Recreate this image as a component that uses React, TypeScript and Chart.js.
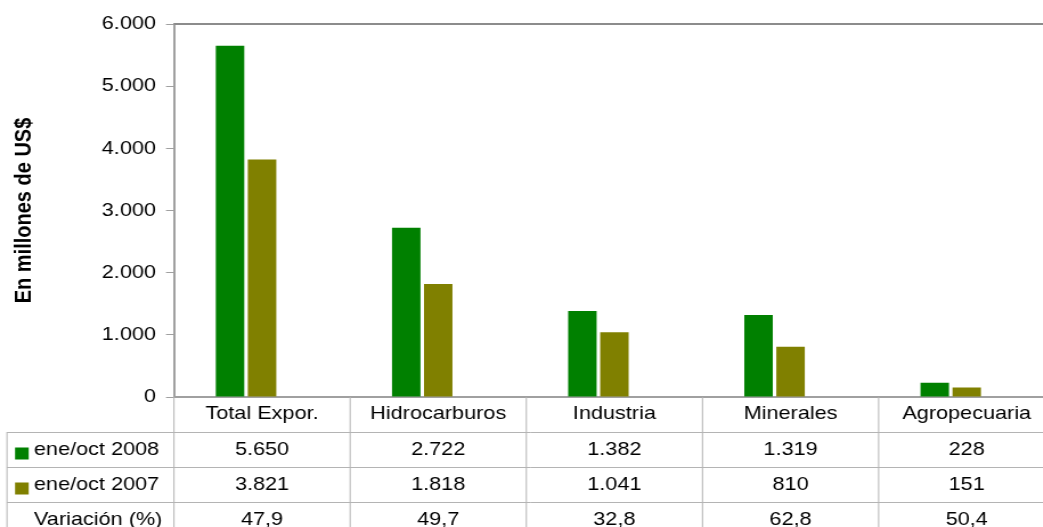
import React, { useEffect, useRef } from "react";
import { Chart, registerables } from "chart.js";

Chart.register(...registerables);

// ---- data ----
const categories = ["Total Expor.", "Hidrocarburos", "Industria", "Minerales", "Agropecuaria"];
const exports2008 = [5650, 2722, 1382, 1319, 228];
const exports2007 = [3821, 1818, 1041, 810, 151];
const variation = [47.9, 49.7, 32.8, 62.8, 50.4];
const seriesLabels = ["ene/oct 2008", "ene/oct 2007", "Variación (%)"];
const seriesColors = ["#008000", "#808000", "rgba(0,0,0,0)"];
const yAxisTitle = "En millones de US$";
const yMin = 0;
const yMax = 6000;
const yStep = 1000;

// ---- layout / style ----
const SX = 1.14; // horizontal stretch of the reference rendering
const W = 930;
const H = 527;
const FONT = "'Liberation Sans', Arial, Helvetica, sans-serif";
const FS = 19;
const ROW_H = 35;

function fmtInt(v: number): string {
  return Math.round(v).toString().replace(/\B(?=(\d{3})+(?!\d))/g, ".");
}
function fmtDec(v: number): string {
  return v.toFixed(1).replace(".", ",");
}

const tablePlugin = {
  id: "dataTable",
  afterDraw(chart: any) {
    const ctx: CanvasRenderingContext2D = chart.ctx;
    const xs = chart.scales.x;
    const { left, right, top, bottom } = chart.chartArea;
    const n = categories.length;
    const catW = (right - left) / n;
    const labelLeft = 7 / SX;
    ctx.save();
    // plot top border
    ctx.strokeStyle = "#8c8c8c";
    ctx.lineWidth = 2;
    ctx.beginPath();
    ctx.moveTo(left, top);
    ctx.lineTo(right, top);
    ctx.stroke();

    // table grid
    ctx.strokeStyle = "#b4b4b4";
    ctx.lineWidth = 1;
    ctx.beginPath();
    for (let i = 0; i <= n; i++) {
      const x = i < n ? xs.getPixelForValue(i) - catW / 2 : xs.getPixelForValue(n - 1) + catW / 2;
      ctx.moveTo(x, bottom);
      ctx.lineTo(x, H);
    }
    for (let k = 1; k <= 3; k++) {
      const y = bottom + ROW_H * k + 0.5;
      ctx.moveTo(labelLeft, y);
      ctx.lineTo(right, y);
    }
    ctx.moveTo(labelLeft, bottom + ROW_H);
    ctx.lineTo(labelLeft, H);
    ctx.stroke();

    const rows = [
      { label: seriesLabels[0], color: seriesColors[0], values: exports2008.map(fmtInt) },
      { label: seriesLabels[1], color: seriesColors[1], values: exports2007.map(fmtInt) },
      { label: seriesLabels[2], color: null as string | null, values: variation.map(fmtDec) },
    ];
    ctx.font = `${FS}px ${FONT}`;
    ctx.textBaseline = "middle";
    rows.forEach((row, r) => {
      const cy = bottom + ROW_H * (r + 1) + ROW_H / 2;
      if (row.color) {
        ctx.fillStyle = row.color;
        ctx.fillRect(13.2, cy - 2, 12, 12);
      }
      ctx.fillStyle = "#000";
      ctx.textAlign = "left";
      ctx.fillText(row.label, 29.8, cy);
      ctx.textAlign = "center";
      row.values.forEach((v, i) => {
        ctx.fillText(v, xs.getPixelForValue(i), cy);
      });
    });
    ctx.restore();
  },
};

export default function App() {
  const ref = useRef<HTMLCanvasElement>(null);
  useEffect(() => {
    if (!ref.current) return;
    const font = { family: FONT, size: FS };
    const barOpts = { categoryPercentage: 0.545, barPercentage: 0.89, borderWidth: 0 };
    const chart = new Chart(ref.current, {
      type: "bar",
      data: {
        labels: categories,
        datasets: [
          { label: seriesLabels[0], data: exports2008, backgroundColor: seriesColors[0], ...barOpts },
          { label: seriesLabels[1], data: exports2007, backgroundColor: seriesColors[1], ...barOpts },
          { label: seriesLabels[2], data: variation, backgroundColor: seriesColors[2], ...barOpts },
        ],
      },
      options: {
        responsive: false,
        animation: false,
        devicePixelRatio: 1,
        layout: { padding: { top: 24, right: W - 1055 / SX, left: 0, bottom: 0 } },
        plugins: { legend: { display: false }, tooltip: { enabled: false } },
        scales: {
          x: {
            grid: { display: false, drawTicks: false },
            border: { display: true, color: "#a0a0a0", width: 2 },
            ticks: { color: "#000", font, padding: 5, maxRotation: 0, autoSkip: false },
            afterFit: (s: any) => {
              s.height = H - 397;
            },
          },
          y: {
            min: yMin,
            max: yMax,
            ticks: {
              stepSize: yStep,
              callback: (v: any) => fmtInt(Number(v)),
              color: "#000",
              font,
              padding: 8.8,
            },
            grid: { drawOnChartArea: false, drawTicks: true, tickLength: 7, color: "#a0a0a0", lineWidth: 1 },
            border: { display: true, color: "#a0a0a0", width: 2 },
            title: {
              display: true,
              text: yAxisTitle,
              color: "#000",
              font: { family: FONT, size: 20, weight: "bold" },
              padding: { top: 9, bottom: 0 },
            },
            afterFit: (s: any) => {
              s.width = 174 / SX;
            },
          },
        },
      },
      plugins: [tablePlugin],
    } as any);
    return () => chart.destroy();
  }, []);

  return (
    <div
      style={{
        position: "fixed",
        left: 0,
        top: 0,
        width: 1043,
        height: 527,
        overflow: "hidden",
        background: "#fff",
      }}
    >
      <canvas
        ref={ref}
        width={W}
        height={H}
        style={{ width: `${W * SX}px`, height: `${H}px`, display: "block" }}
      />
    </div>
  );
}
